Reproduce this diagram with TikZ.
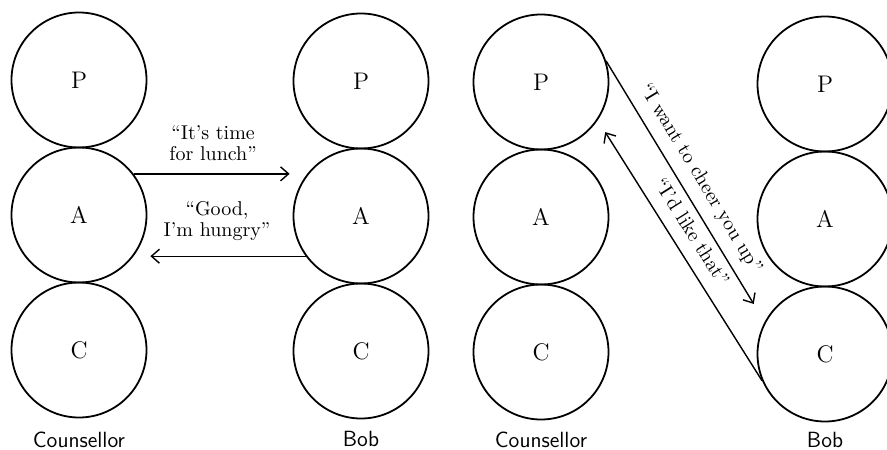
\documentclass[tikz,border=0pt]{standalone}
\usepackage{tikz}
\usetikzlibrary{arrows.meta}

\begin{document}
\begin{tikzpicture}[x=0.5pt, y=-0.5pt, >={Straight Barb[length=4pt,width=7pt]}, node distance=67.5pt]
	\tikzstyle{ego} = [circle, draw, line width=0.9pt, minimum size=67.5pt, inner sep=0pt, font=\large];
	\tikzstyle{who} = [inner sep=1pt, font=\fontsize{11}{13}\selectfont\sffamily];
	\tikzstyle{say} = [->, line width=0.7pt, shorten >=1.5pt];
	\tikzstyle{words} = [align=center, font=\fontsize{10}{10.5}\selectfont];
	\useasboundingbox (0,0) rectangle (887,449);

	% counsellor, left
	\node[ego] (P1) at (79,80) {P};
	\node[ego] (A1) [below of=P1] {A};
	\node[ego] (C1) [below of=A1] {C};
	\node[who] (N1) [below of=C1, node distance=45pt] {Counsellor};

	% bob, left
	\node[ego] (P2) at (361,81) {P};
	\node[ego] (A2) [below of=P2] {A};
	\node[ego] (C2) [below of=A2] {C};
	\node[who] (N2) [below of=C2, node distance=44pt] {Bob};

	% counsellor, right
	\node[ego] (P3) at (541,82) {P};
	\node[ego] (A3) [below of=P3] {A};
	\node[ego] (C3) [below of=A3] {C};
	\node[who] (N3) [below of=C3, node distance=44pt] {Counsellor};

	% bob, right
	\node[ego] (P4) at (825,84) {P};
	\node[ego] (A4) [below of=P4] {A};
	\node[ego] (C4) [below of=A4] {C};
	\node[who] (N4) [below of=C4, node distance=43pt] {Bob};

	\path[say] (A1.37) edge node[words, above=3pt] {“It’s time\\for lunch”} (A2.west |- A1.37)
	           (A2.216) edge node[words, above=4pt, pos=.56] {“Good,\\I’m hungry”} (A1.east |- A2.216);

	\path[say] (P3.18) edge[shorten >=10.5pt] node[words, sloped, above=1.5pt, pos=.49] {“I want to cheer you up”} (C4.152)
	           (C4.203) edge[shorten >=7pt] node[words, sloped, above=3pt, pos=.53] {“I’d like that”} (P3.326);
\end{tikzpicture}
\end{document}
